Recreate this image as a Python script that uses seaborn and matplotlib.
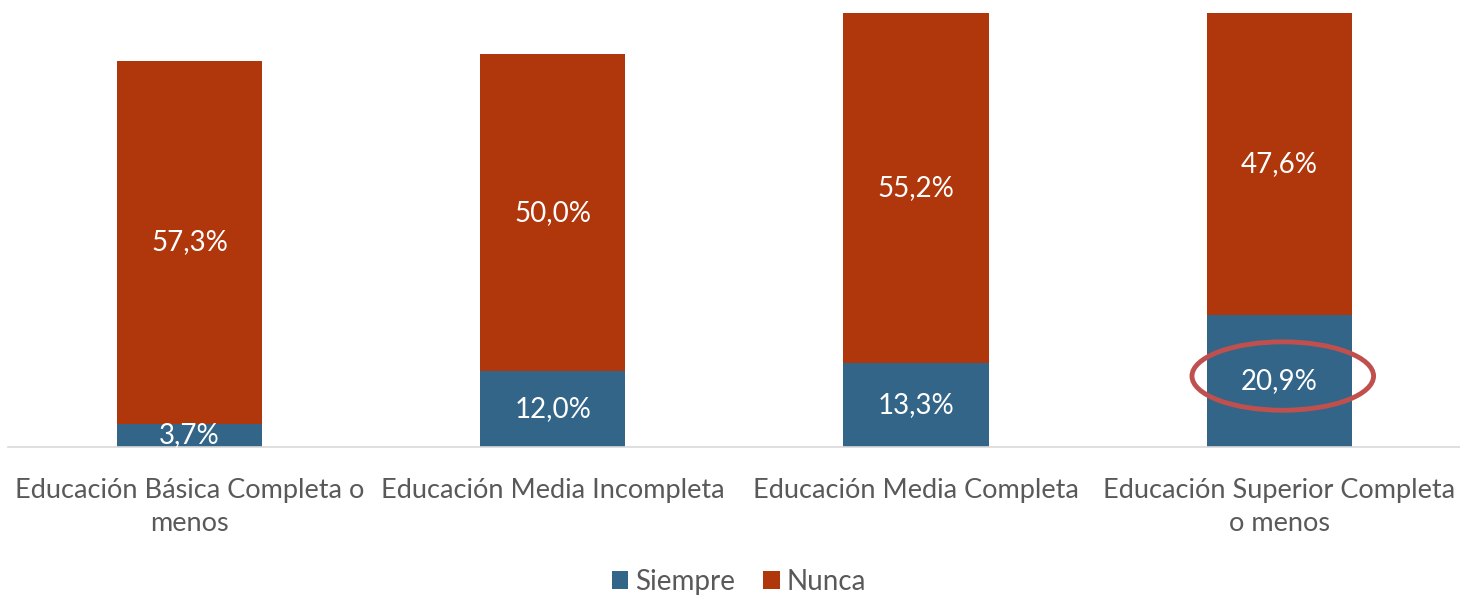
import matplotlib.pyplot as plt
import pandas as pd
import seaborn as sns
from matplotlib.patches import Ellipse

# data
categories = [
    "Educación Básica Completa o\nmenos",
    "Educación Media Incompleta",
    "Educación Media Completa",
    "Educación Superior Completa\no menos",
]
siempre = [3.7, 12.0, 13.3, 20.9]
nunca = [57.3, 50.0, 55.2, 47.6]

BLUE = "#336588"
RUST = "#B0360C"
GREY = "#595959"

sns.set_theme(style="white")
plt.rcParams["font.family"] = ["Lato", "DejaVu Sans"]

df = pd.DataFrame({"cat": categories, "Siempre": siempre, "Nunca": nunca})
df["total"] = df["Siempre"] + df["Nunca"]

fig = plt.figure(figsize=(14.6, 5.96), dpi=100)
ax = fig.add_axes([0.0055, 0.25, 0.995, 0.728])

sns.barplot(data=df, x="cat", y="total", color=RUST, width=0.4,
            saturation=1, ax=ax, label="Nunca", linewidth=0)
sns.barplot(data=df, x="cat", y="Siempre", color=BLUE, width=0.4,
            saturation=1, ax=ax, label="Siempre", linewidth=0)

# white data labels centered in each segment
for i, (s, n) in enumerate(zip(siempre, nunca)):
    ax.text(i, s / 2, f"{s:.1f}%".replace(".", ","), ha="center", va="center",
            color="white", fontsize=20)
    ax.text(i, s + n / 2, f"{n:.1f}%".replace(".", ","), ha="center", va="center",
            color="white", fontsize=20)

# highlight around the last Siempre value
ax.add_patch(Ellipse((3.01, siempre[3] / 2 + 0.75), 0.5, 10.8, fill=False,
                     edgecolor="#C0504D", linewidth=3.5, zorder=5))

ax.set_xlim(-0.5, 3.5)
ax.set_ylim(0, 68.5)
ax.set_xlabel("")
ax.set_ylabel("")
ax.set_yticks([])
if ax.get_legend() is not None:
    ax.get_legend().remove()
for side in ["top", "right", "left"]:
    ax.spines[side].set_visible(False)
ax.spines["bottom"].set_color("#D9D9D9")
ax.spines["bottom"].set_linewidth(1.2)
ax.tick_params(axis="x", length=0, pad=22, labelsize=19.5, labelcolor=GREY)
for lbl in ax.get_xticklabels():
    lbl.set_linespacing(1.4)

handles, labels = ax.get_legend_handles_labels()
order = [labels.index("Siempre"), labels.index("Nunca")]
leg = fig.legend([handles[k] for k in order], [labels[k] for k in order],
                 loc="center", bbox_to_anchor=(0.506, 0.024), ncol=2,
                 frameon=False, fontsize=20, handlelength=0.6, handleheight=0.6,
                 handletextpad=0.25, columnspacing=1.0)
for t in leg.get_texts():
    t.set_color(GREY)

fig.savefig("out.png", dpi=100)
